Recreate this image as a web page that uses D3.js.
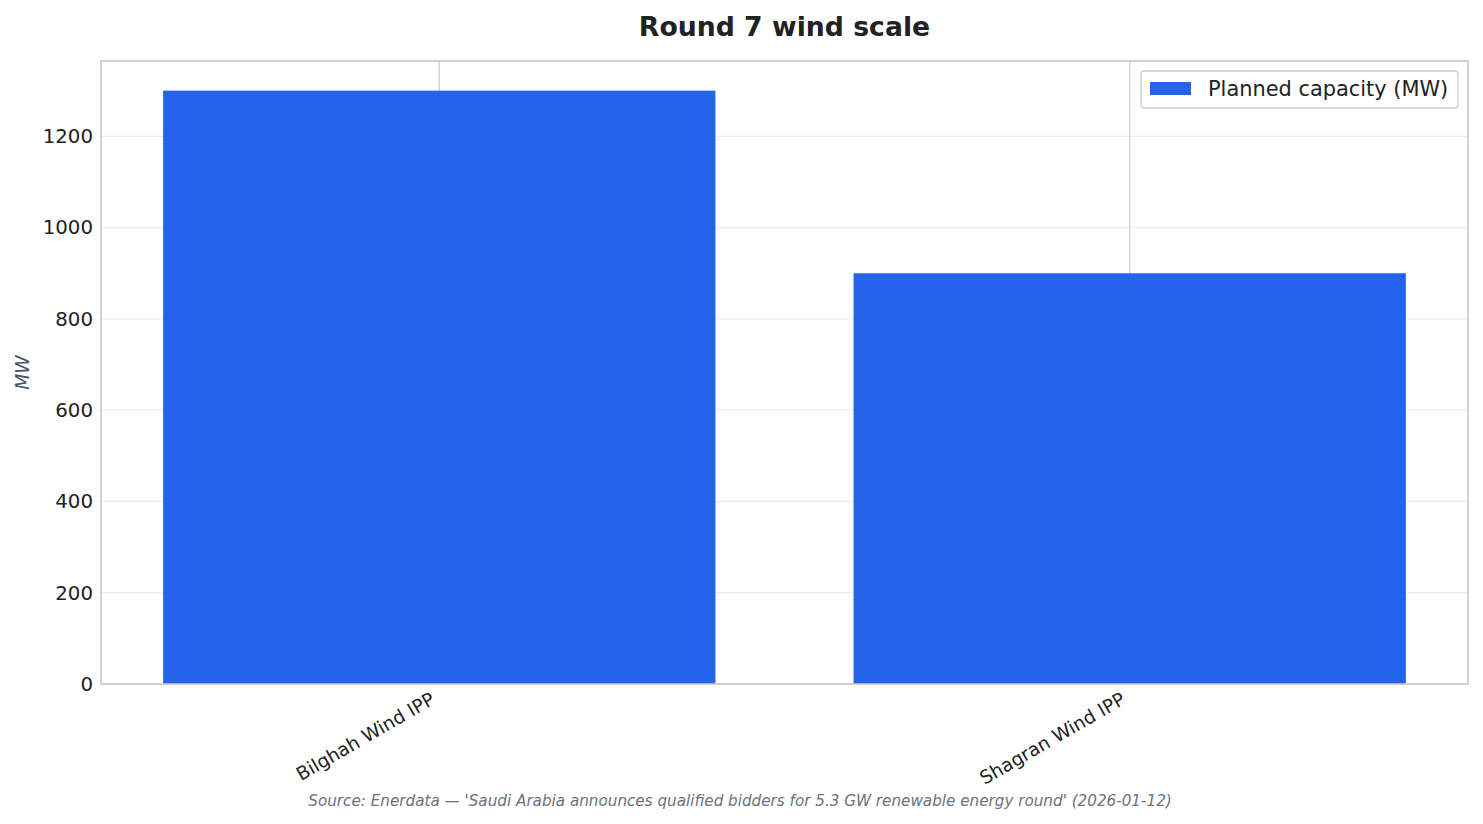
<!DOCTYPE html>
<html><head><meta charset="utf-8">
<script src="https://cdn.jsdelivr.net/npm/d3@7"></script>
<style>body{margin:0;background:#fff;} text{font-family:"DejaVu Sans",sans-serif;}</style>
</head><body>
<svg id="c" width="1483" height="824"></svg>
<script>
const categories = ["Bilghah Wind IPP", "Shagran Wind IPP"];
const capacityMW = [1300, 900];
const yTicks = [0, 200, 400, 600, 800, 1000, 1200];
const seriesName = "Planned capacity (MW)";

const svg = d3.select("#c");
const m = {l:101, r:1468, t:61, b:684};
const x = d3.scaleLinear().domain([-0.49, 1.49]).range([m.l, m.r]);
const y = d3.scaleLinear().domain([0, 1365]).range([m.b, m.t]);
const bw = 0.8;
const color = "#2563eb";

// horizontal grid
svg.append("g").selectAll("line").data(yTicks).join("line")
  .attr("x1", m.l).attr("x2", m.r).attr("y1", d=>y(d)).attr("y2", d=>y(d))
  .attr("stroke", "#ececec").attr("stroke-width", 1.2);
// vertical grid
svg.append("g").selectAll("line").data(categories).join("line")
  .attr("x1", (d,i)=>x(i)).attr("x2", (d,i)=>x(i)).attr("y1", m.t).attr("y2", m.b)
  .attr("stroke", "#d0d0d0").attr("stroke-width", 1.3);

// bars
svg.append("g").selectAll("rect").data(capacityMW).join("rect")
  .attr("x", (d,i)=>x(i-bw/2)).attr("width", (d,i)=>x(i+bw/2)-x(i-bw/2))
  .attr("y", d=>y(d)).attr("height", d=>y(0)-y(d)).attr("fill", color);

// frame
svg.append("rect").attr("x", m.l).attr("y", m.t).attr("width", m.r-m.l).attr("height", m.b-m.t)
  .attr("fill", "none").attr("stroke", "#c8c8c8").attr("stroke-width", 1.6);

// y axis labels
const yAxis = d3.axisLeft(y).tickValues(yTicks).tickSize(0).tickPadding(8).tickFormat(d3.format("d"));
const ga = svg.append("g").attr("transform", `translate(${m.l},0)`).call(yAxis);
ga.select(".domain").remove();
ga.selectAll("text").attr("font-size", 19.8).attr("fill", "#222").attr("font-family", "DejaVu Sans");

// x labels
svg.append("g").selectAll("text").data(categories).join("text")
  .attr("transform", (d,i)=>`translate(${x(i)-3},${m.b+19}) rotate(-30)`)
  .attr("text-anchor", "end").attr("font-size", 18.6).attr("fill", "#222").text(d=>d);

// title
svg.append("text").attr("x", (m.l+m.r)/2).attr("y", 36).attr("text-anchor", "middle")
  .attr("font-size", 26.7).attr("font-weight", "bold").attr("fill", "#222").text("Round 7 wind scale");

// y label
svg.append("text").attr("transform", `translate(29,${(m.t+m.b)/2}) rotate(-90)`)
  .attr("text-anchor", "middle").attr("font-size", 18.6).attr("font-style", "italic")
  .attr("fill", "#475569").text("MW");

// legend
const lg = svg.append("g");
lg.append("rect").attr("x", 1141).attr("y", 71).attr("width", 317).attr("height", 37).attr("rx", 3)
  .attr("fill", "#fff").attr("stroke", "#cccccc").attr("stroke-width", 1.3);
lg.append("rect").attr("x", 1150).attr("y", 82).attr("width", 41).attr("height", 13).attr("fill", color);
lg.append("text").attr("x", 1208).attr("y", 96).attr("font-size", 20.9).attr("fill", "#222").text(seriesName);

// source
svg.append("text").attr("x", 740).attr("y", 806).attr("text-anchor", "middle")
  .attr("font-size", 15.2).attr("font-style", "italic").attr("fill", "#6b7280")
  .text("Source: Enerdata — 'Saudi Arabia announces qualified bidders for 5.3 GW renewable energy round' (2026-01-12)");
</script>
</body></html>
